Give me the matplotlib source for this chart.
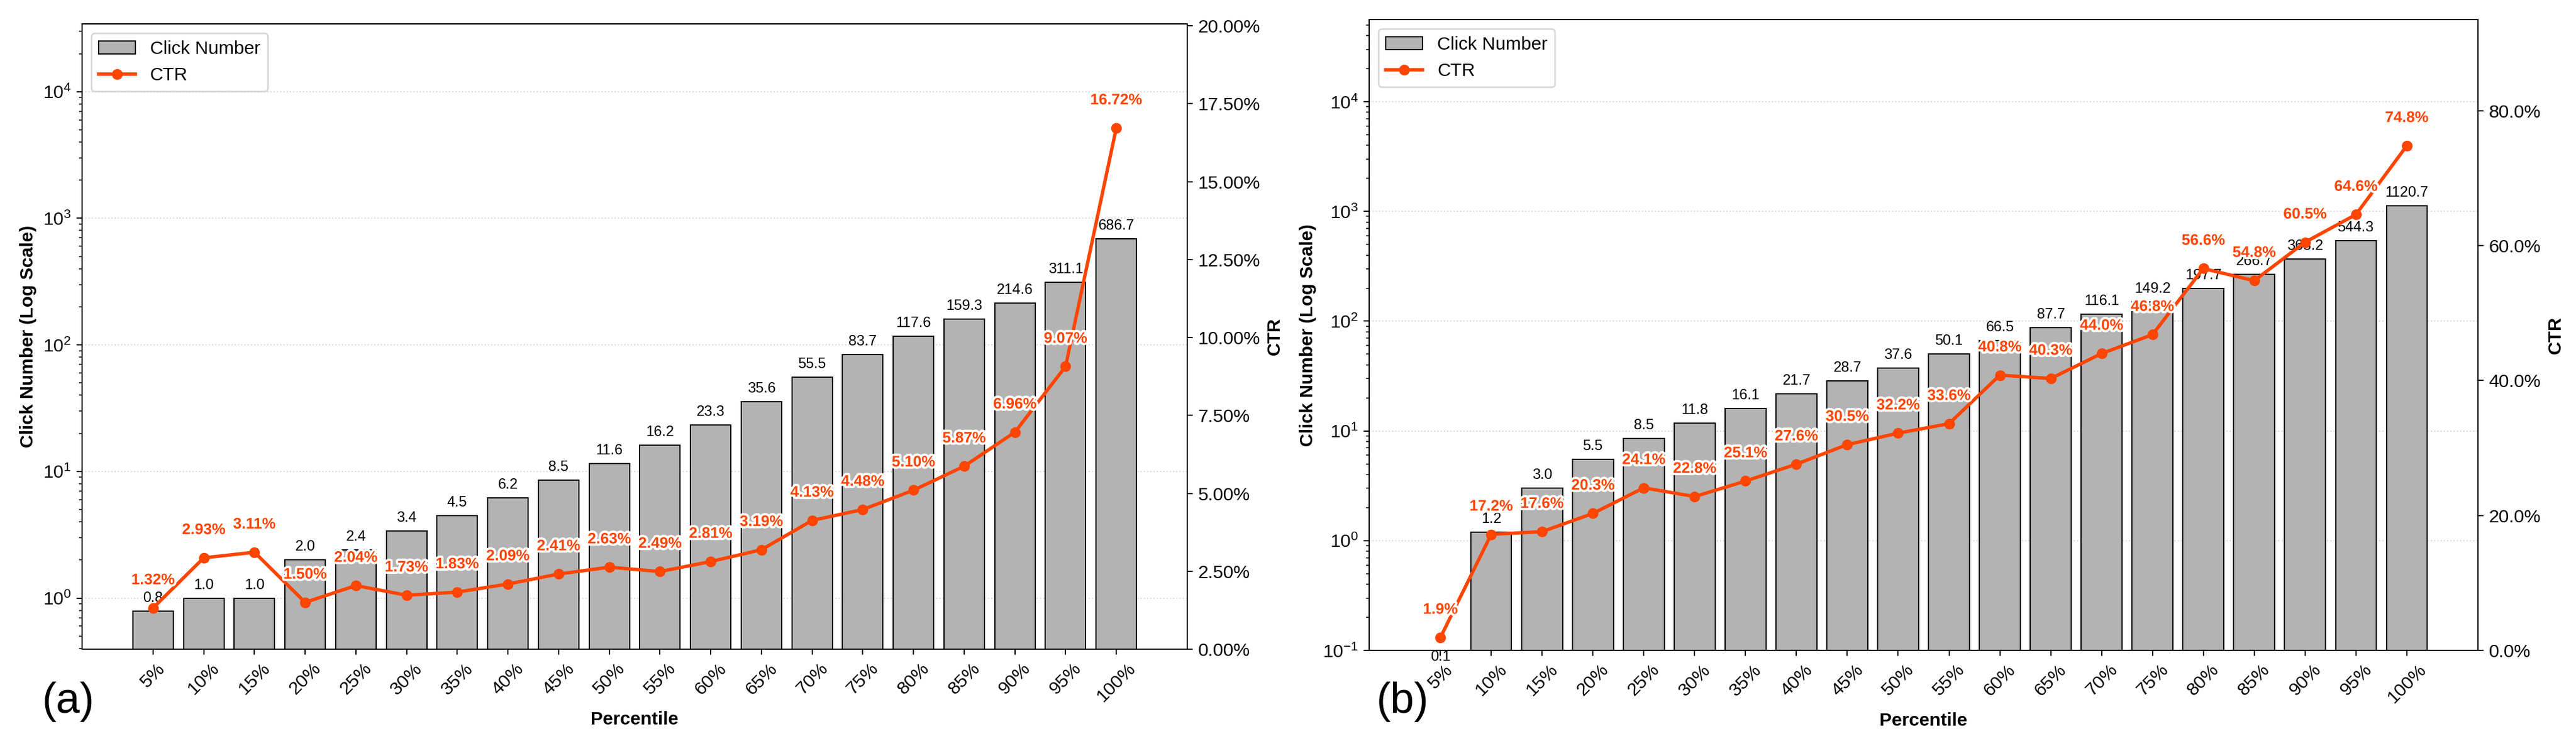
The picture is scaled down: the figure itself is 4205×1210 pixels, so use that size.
import matplotlib
matplotlib.use("Agg")
import matplotlib.pyplot as plt
import matplotlib.patheffects as pe
from matplotlib.ticker import FuncFormatter
import numpy as np

plt.rcParams['font.family'] = ['Liberation Sans', 'DejaVu Sans']

percentiles = ['5%', '10%', '15%', '20%', '25%', '30%', '35%', '40%', '45%', '50%',
               '55%', '60%', '65%', '70%', '75%', '80%', '85%', '90%', '95%', '100%']

clicks_a = [0.79, 1.0, 1.0, 2.0, 2.4, 3.4, 4.5, 6.2, 8.5, 11.6,
            16.2, 23.3, 35.6, 55.5, 83.7, 117.6, 159.3, 214.6, 311.1, 686.7]
ctr_a = [1.32, 2.93, 3.11, 1.50, 2.04, 1.73, 1.83, 2.09, 2.41, 2.63,
         2.49, 2.81, 3.19, 4.13, 4.48, 5.10, 5.87, 6.96, 9.07, 16.72]

clicks_b = [0.066, 1.2, 3.0, 5.5, 8.5, 11.8, 16.1, 21.7, 28.7, 37.6,
            50.1, 66.5, 87.7, 116.1, 149.2, 197.7, 266.7, 368.2, 544.3, 1120.7]
ctr_b = [1.9, 17.2, 17.6, 20.3, 24.1, 22.8, 25.1, 27.6, 30.5, 32.2,
         33.6, 40.8, 40.3, 44.0, 46.8, 56.6, 54.8, 60.5, 64.6, 74.8]

W, H = 4205, 1210
DPI = 180
fig = plt.figure(figsize=(W / DPI, H / DPI), dpi=DPI)

BAR_FACE = (0.70, 0.70, 0.70)
LINE_COLOR = '#FF4500'


def px_axes(l, r, t, b):
    return [l / W, (H - b) / H, (r - l) / W, (b - t) / H]


def panel(rect, clicks, ctr, ylim_left, ylim_right, rticks, rfmt, cfmt, tag, tagx):
    ax = fig.add_axes(rect)
    x = np.arange(len(percentiles))
    bars = ax.bar(x, clicks, width=0.8, color=BAR_FACE, edgecolor='black',
                  linewidth=0.8, label='Click Number', zorder=2)
    ax.set_yscale('log')
    ax.set_ylim(*ylim_left)
    ax.set_xlim(-1.4, len(percentiles) - 1 + 1.4)
    ax.set_xticks(x)
    ax.set_xticklabels(percentiles, rotation=45, ha='center')
    ax.tick_params(axis='both', labelsize=12)
    ax.set_xlabel('Percentile', fontsize=12, fontweight='bold')
    ax.set_ylabel('Click Number (Log Scale)', fontsize=12, fontweight='bold')
    ax.grid(True, which='major', axis='y', linestyle=':', color='gray', alpha=0.3)
    for xi, v in zip(x, clicks):
        ax.annotate(f"{v:.1f}", (xi, v), xytext=(0, 4), textcoords='offset points',
                    ha='center', va='bottom', fontsize=9.5, annotation_clip=False)

    ax2 = ax.twinx()
    line, = ax2.plot(x, ctr, color=LINE_COLOR, marker='o', markersize=6,
                     linewidth=2.2, label='CTR')
    ax2.set_ylim(*ylim_right)
    ax2.set_yticks(rticks)
    ax2.yaxis.set_major_formatter(FuncFormatter(lambda v, p: rfmt % v))
    ax2.tick_params(axis='y', labelsize=12)
    ax2.set_ylabel('CTR', fontsize=12, fontweight='bold')
    for xi, c in zip(x, ctr):
        ax2.annotate(cfmt % c, (xi, c), xytext=(0, 13.5), textcoords='offset points',
                     ha='center', va='bottom', fontsize=10, fontweight='bold',
                     color=LINE_COLOR,
                     path_effects=[pe.withStroke(linewidth=3, foreground='white')])

    ax.legend([bars, line], ['Click Number', 'CTR'], loc='upper left', fontsize=12)
    fig.text(tagx / W, 1 - 1146 / H, tag, fontsize=28, ha='center', va='center')
    return ax, ax2


panel(px_axes(134, 1938, 39, 1060), clicks_a, ctr_a,
      (0.395, max(clicks_a) * 50), (0, max(ctr_a) * 1.2),
      [0, 2.5, 5, 7.5, 10, 12.5, 15, 17.5, 20], '%.2f%%', '%.2f%%', '(a)', 111)

panel(px_axes(2235, 4045, 32, 1062), clicks_b, ctr_b,
      (0.1, max(clicks_b) * 50), (0, max(ctr_b) * 1.25),
      [0, 20, 40, 60, 80], '%.1f%%', '%.1f%%', '(b)', 2289)

fig.savefig('out.png', dpi=DPI)
